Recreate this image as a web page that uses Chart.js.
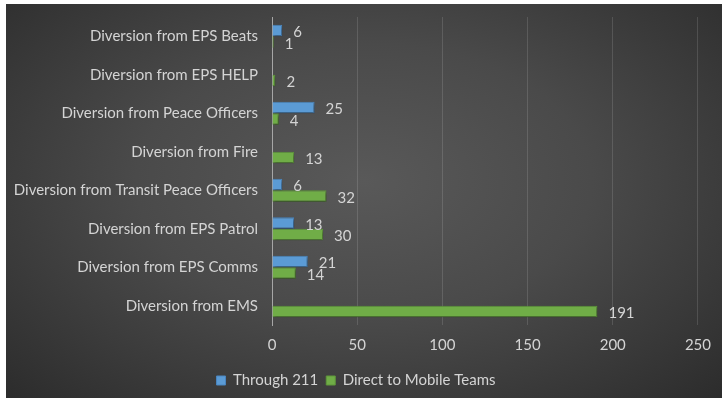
<!DOCTYPE html>
<html>
<head>
<meta charset="utf-8">
<script src="https://cdn.jsdelivr.net/npm/chart.js"></script>
<style>
  html, body { margin: 0; padding: 0; background: #ffffff; }
  #wrap {
    position: absolute; left: 6px; top: 4px; width: 716px; height: 394px;
    background: radial-gradient(ellipse at 50% 45%, #595959 0%, #4a4a4a 45%, #2c2c2c 100%);
  }
</style>
</head>
<body>
<div id="wrap"><canvas id="diversions"></canvas></div>
<script>
// categories, top to bottom
var categories = [
  'Diversion from EPS Beats',
  'Diversion from EPS HELP',
  'Diversion from Peace Officers',
  'Diversion from Fire',
  'Diversion from Transit Peace Officers',
  'Diversion from EPS Patrol',
  'Diversion from EPS Comms',
  'Diversion from EMS'
];
var through211 = [6, null, 25, null, 6, 13, 21, null];
var directMobile = [1, 2, 4, 13, 32, 30, 14, 191];
var xTicks = [0, 50, 100, 150, 200, 250];

var FONT = 'Lato, "Open Sans", sans-serif';
var TEXT = '#d4d4d4';

// value labels to the right of every bar
var valueLabels = {
  id: 'valueLabels',
  afterDatasetsDraw: function(chart) {
    var ctx = chart.ctx;
    ctx.save();
    ctx.font = '15px ' + FONT;
    ctx.fillStyle = TEXT;
    ctx.textBaseline = 'middle';
    ctx.textAlign = 'left';
    chart.data.datasets.forEach(function(ds, i) {
      var meta = chart.getDatasetMeta(i);
      meta.data.forEach(function(bar, j) {
        var v = ds.data[j];
        if (v === null || v === undefined) return;
        ctx.fillText(String(v), bar.x + 11, bar.y + 2);
      });
    });
    ctx.restore();
  }
};

// soft drop shadow under the bars
var barShadow = {
  id: 'barShadow',
  beforeDatasetsDraw: function(chart) {
    var ctx = chart.ctx;
    ctx.save();
    ctx.shadowColor = 'rgba(0,0,0,0.45)';
    ctx.shadowBlur = 3;
    ctx.shadowOffsetX = 1;
    ctx.shadowOffsetY = 2;
  },
  afterDatasetsDraw: function(chart) {
    chart.ctx.restore();
  }
};

var ctx = document.getElementById('diversions').getContext('2d');
var chart = new Chart(ctx, {
  type: 'bar',
  data: {
    labels: categories,
    datasets: [
      {
        label: 'Through 211',
        data: through211,
        backgroundColor: '#5b9bd5',
        borderColor: '#4a86c0',
        borderWidth: 1,
        categoryPercentage: 0.6,
        barPercentage: 1.0
      },
      {
        label: 'Direct to Mobile Teams',
        data: directMobile,
        backgroundColor: '#70ad47',
        borderColor: '#5e973a',
        borderWidth: 1,
        categoryPercentage: 0.6,
        barPercentage: 1.0
      }
    ]
  },
  options: {
    indexAxis: 'y',
    responsive: true,
    maintainAspectRatio: false,
    animation: false,
    layout: { padding: { left: 6, right: 22, top: 13, bottom: 0 } },
    scales: {
      x: {
        min: 0,
        max: 250,
        afterBuildTicks: function(scale) {
          scale.ticks = xTicks.map(function(v) { return { value: v }; });
        },
        grid: { color: 'rgba(255,255,255,0.13)', drawTicks: false },
        border: { display: false },
        ticks: { color: TEXT, font: { family: FONT, size: 15 }, padding: 11 }
      },
      y: {
        afterFit: function(scale) {
          scale.width = 260;
          scale.paddingTop = 0;
          scale.paddingBottom = 0;
        },
        grid: { display: false, drawTicks: false },
        border: { display: true, color: '#a6a6a6', width: 1 },
        ticks: { color: TEXT, font: { family: FONT, size: 15 }, padding: 14 }
      }
    },
    plugins: {
      legend: {
        position: 'bottom',
        labels: {
          color: TEXT,
          font: { family: FONT, size: 15 },
          boxWidth: 9,
          boxHeight: 9,
          padding: 8
        }
      },
      tooltip: { enabled: false }
    }
  },
  plugins: [barShadow, valueLabels]
});
</script>
</body>
</html>
